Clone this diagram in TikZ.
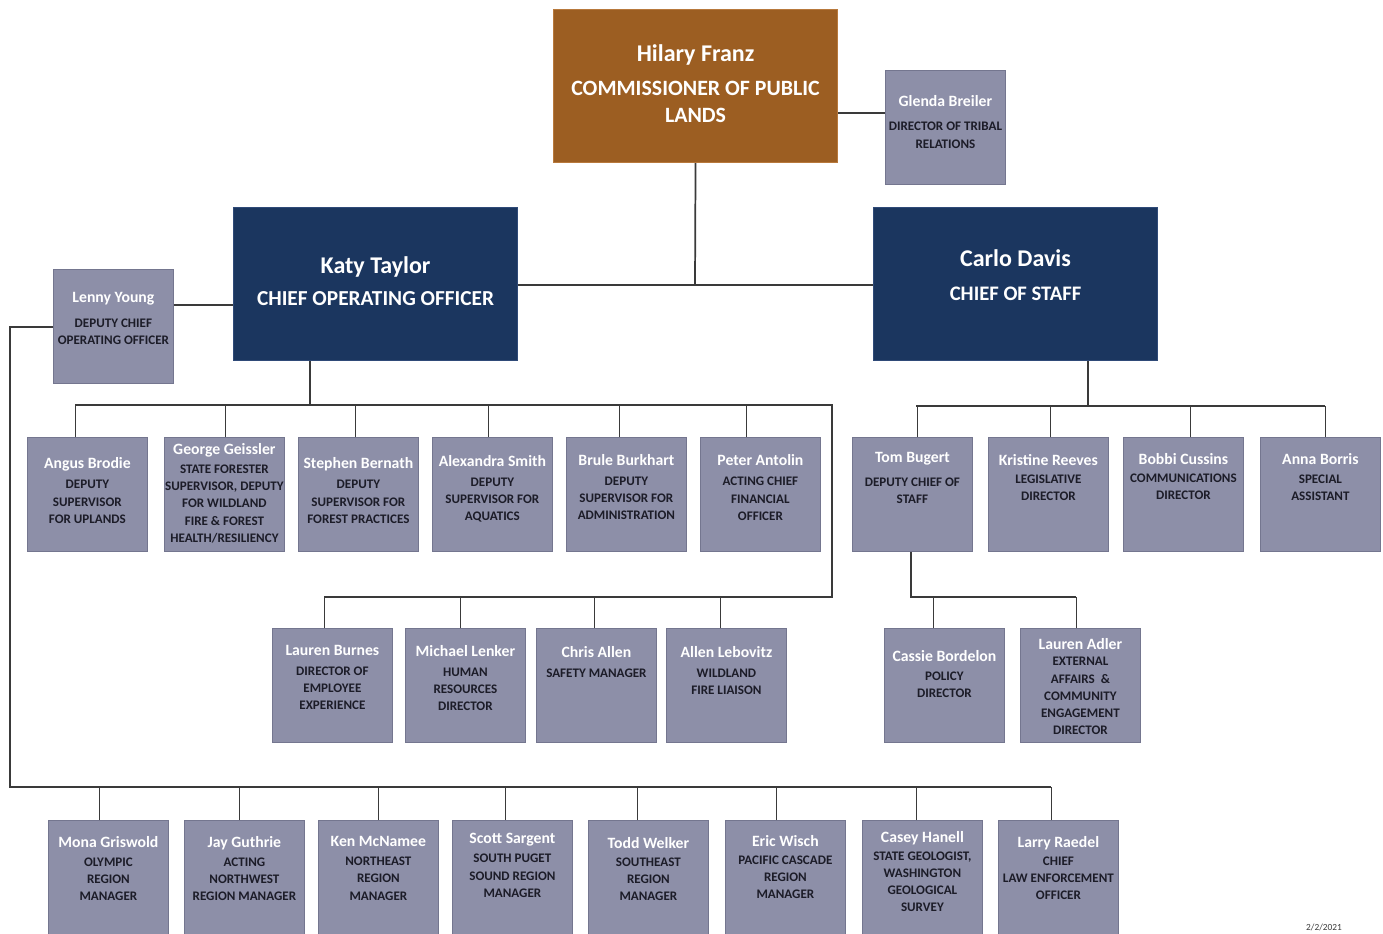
\documentclass[tikz,border=0pt]{standalone}
\usepackage{fontspec}
\setmainfont{Carlito}
\usetikzlibrary{calc}
\definecolor{staffgray}{HTML}{8D8FA8}
\definecolor{staffedge}{HTML}{74768F}
\definecolor{chiefnavy}{HTML}{1B365F}
\definecolor{chiefedge}{HTML}{2F4A78}
\definecolor{franzbrown}{HTML}{9C5E22}
\definecolor{franzedge}{HTML}{B8793C}
\definecolor{roleink}{HTML}{1C1C28}
\definecolor{wireink}{HTML}{3A3A3A}
\newcommand{\pname}[1]{{\fontsize{11.8}{13}\selectfont\color{white}#1}}

\begin{document}
\begin{tikzpicture}[x=0.75pt,y=-0.75pt,
    staff/.style={draw=staffedge, line width=0.6pt, fill=staffgray, anchor=north west,
        minimum width=90pt, minimum height=85.5pt, inner sep=0pt},
    chief/.style={draw=chiefedge, line width=0.8pt, fill=chiefnavy, anchor=north west,
        minimum width=213pt, minimum height=114.75pt, align=center, text=white,
        font=\bfseries\fontsize{16}{19}\selectfont},
    who/.style={anchor=north, align=center, inner sep=0pt, text=roleink,
        font=\bfseries\fontsize{9.8}{12.9}\selectfont},
    wire/.style={draw=wireink, line width=1.3pt}]
	%%%%% FRAME %%%%%
	\useasboundingbox[fill=white] (0,0) rectangle (1383,933);
	
	%%%%% TOP %%%%%
	\node[chief, draw=franzedge, fill=franzbrown, font=\bfseries\fontsize{16.4}{20.25}\selectfont] (franz) at (553,9)
	    {{\fontsize{18}{20}\selectfont Hilary Franz}\\[5.25pt]COMMISSIONER OF PUBLIC\\LANDS\\[-17pt]\mbox{}};
	\node[staff] (glenda) at (885,70) {};
	\node[who] (glenda-t) at ($(glenda.north)+(0,25)$) {\pname{Glenda Breiler}\\[5pt]DIRECTOR OF TRIBAL\\[1pt]RELATIONS};
	
	\node[chief] (katy) at (233,207) {{\fontsize{18}{20}\selectfont Katy Taylor}\\[5pt]CHIEF OPERATING OFFICER\\[-14pt]\mbox{}};
	\node[chief, font=\bfseries\fontsize{15.5}{19}\selectfont] (carlo) at (873,207)
	    {{\fontsize{18}{20}\selectfont Carlo Davis}\\[6.5pt]CHIEF OF STAFF\\[-5.5pt]\mbox{}};
	\node[staff] (lenny) at (53,269) {};
	\node[who] (lenny-t) at ($(lenny.north)+(0,23)$) {\pname{Lenny Young}\\[5.5pt]DEPUTY CHIEF\\OPERATING OFFICER};
	
	%%%%% COO ROW %%%%%
	\node[staff] (angus) at (27,437) {};
	\node[staff] (george) at (164,437) {};
	\node[staff] (stephen) at (298,437) {};
	\node[staff] (alexandra) at (432,437) {};
	\node[staff] (brule) at (566,437) {};
	\node[staff] (peter) at (700,437) {};
	\node[who] (angus-t) at ($(angus.north)+(0,20)$) {\pname{Angus Brodie}\\[2.5pt]DEPUTY\\SUPERVISOR\\FOR UPLANDS};
	\node[who] (george-t) at ($(george.north)+(0,6)$) {\pname{George Geissler}\\[1.5pt]STATE FORESTER\\SUPERVISOR, DEPUTY\\FOR WILDLAND\\FIRE \& FOREST\\HEALTH/RESILIENCY};
	\node[who] (stephen-t) at ($(stephen.north)+(0,20)$) {\pname{Stephen Bernath}\\[2.5pt]DEPUTY\\SUPERVISOR FOR\\FOREST PRACTICES};
	\node[who] (alexandra-t) at ($(alexandra.north)+(0,18)$) {\pname{Alexandra Smith}\\[2pt]DEPUTY\\SUPERVISOR FOR\\AQUATICS};
	\node[who] (brule-t) at ($(brule.north)+(0,17)$) {\pname{Brule Burkhart}\\[2pt]DEPUTY\\SUPERVISOR FOR\\ADMINISTRATION};
	\node[who] (peter-t) at ($(peter.north)+(0,17)$) {\pname{Peter Antolin}\\[2.5pt]ACTING CHIEF\\FINANCIAL\\OFFICER};
	
	\node[staff] (burnes) at (272,628) {};
	\node[staff] (lenker) at (405,628) {};
	\node[staff] (chris) at (536,628) {};
	\node[staff] (allen) at (666,628) {};
	\node[who] (burnes-t) at ($(burnes.north)+(0,17)$) {\pname{Lauren Burnes}\\[2pt]DIRECTOR OF\\EMPLOYEE\\EXPERIENCE};
	\node[who] (lenker-t) at ($(lenker.north)+(0,17)$) {\pname{Michael Lenker}\\[2pt]HUMAN\\RESOURCES\\DIRECTOR};
	\node[who] (chris-t) at ($(chris.north)+(0,18)$) {\pname{Chris Allen}\\[2pt]SAFETY MANAGER};
	\node[who] (allen-t) at ($(allen.north)+(0,18)$) {\pname{Allen Lebovitz}\\[2pt]WILDLAND\\FIRE LIAISON};
	
	%%%%% STAFF ROW %%%%%
	\node[staff] (tom) at (852,437) {};
	\node[staff] (kristine) at (988,437) {};
	\node[staff] (bobbi) at (1123,437) {};
	\node[staff] (anna) at (1260,437) {};
	\node[who] (tom-t) at ($(tom.north)+(0,15)$) {\pname{Tom Bugert}\\[5pt]DEPUTY CHIEF OF\\STAFF};
	\node[who] (kristine-t) at ($(kristine.north)+(0,17)$) {\pname{Kristine Reeves}\\[0.5pt]LEGISLATIVE\\DIRECTOR};
	\node[who] (bobbi-t) at ($(bobbi.north)+(0,16)$) {\pname{Bobbi Cussins}\\[0.5pt]COMMUNICATIONS\\DIRECTOR};
	\node[who] (anna-t) at ($(anna.north)+(0,16)$) {\pname{Anna Borris}\\[1.5pt]SPECIAL\\ASSISTANT};
	
	\node[staff] (cassie) at (884,628) {};
	\node[staff] (adler) at (1020,628) {};
	\node[who] (cassie-t) at ($(cassie.north)+(0,22)$) {\pname{Cassie Bordelon}\\[1.5pt]POLICY\\DIRECTOR};
	\node[who] (adler-t) at ($(adler.north)+(0,10)$) {\pname{Lauren Adler}\\[-0.5pt]EXTERNAL\\AFFAIRS \ \&\\COMMUNITY\\ENGAGEMENT\\DIRECTOR};
	
	%%%%% REGIONS %%%%%
	\node[staff, minimum height=90pt] (mona) at (48,820) {};
	\node[staff, minimum height=90pt] (jay) at (184,820) {};
	\node[staff, minimum height=90pt] (ken) at (318,820) {};
	\node[staff, minimum height=90pt] (scott) at (452,820) {};
	\node[staff, minimum height=90pt] (todd) at (588,820) {};
	\node[staff, minimum height=90pt] (eric) at (725,820) {};
	\node[staff, minimum height=90pt] (casey) at (862,820) {};
	\node[staff, minimum height=90pt] (larry) at (998,820) {};
	\node[who] (mona-t) at ($(mona.north)+(0,16)$) {\pname{Mona Griswold}\\[1.5pt]OLYMPIC\\REGION\\MANAGER};
	\node[who] (jay-t) at ($(jay.north)+(0,16)$) {\pname{Jay Guthrie}\\[1.5pt]ACTING\\NORTHWEST\\REGION MANAGER};
	\node[who] (ken-t) at ($(ken.north)+(0,16)$) {\pname{Ken McNamee}\\[1.5pt]NORTHEAST\\REGION\\MANAGER};
	\node[who] (scott-t) at ($(scott.north)+(0,13)$) {\pname{Scott Sargent}\\[1.5pt]SOUTH PUGET\\SOUND REGION\\MANAGER};
	\node[who] (todd-t) at ($(todd.north)+(0,17)$) {\pname{Todd Welker}\\[0.5pt]SOUTHEAST\\REGION\\MANAGER};
	\node[who] (eric-t) at ($(eric.north)+(0,15)$) {\pname{Eric Wisch}\\[0.5pt]PACIFIC CASCADE\\REGION\\MANAGER};
	\node[who] (casey-t) at ($(casey.north)+(0,11)$) {\pname{Casey Hanell}\\[0.5pt]STATE GEOLOGIST,\\WASHINGTON\\GEOLOGICAL\\SURVEY};
	\node[who] (larry-t) at ($(larry.north)+(0,16)$) {\pname{Larry Raedel}\\[0.5pt]CHIEF\\LAW ENFORCEMENT\\OFFICER};
	
	\node[anchor=south, inner sep=0pt, text=wireink, font=\fontsize{7}{7}\selectfont] (date) at (1324,931) {2/2/2021};
	
	%%%%% WIRES %%%%%
	\coordinate (hub) at (695,285);
	\coordinate (tribal) at (885,113);
	\coordinate (deputy) at (203,305);
	\coordinate (cooBus) at (310,405);
	\coordinate (cooTurn) at (832,405);
	\coordinate (cooLow) at (832,597);
	\coordinate (cosBus) at (1088,406);
	\coordinate (tomBus) at (911,597);
	\coordinate (regionTurn) at (10,327);
	\coordinate (regionBus) at (10,787);
	
	\draw[wire] (tribal -| franz.east) -- (tribal);
	\draw[wire] (franz.south) -- (hub);
	\draw[wire] (katy.east |- hub) -- (carlo.west |- hub);
	\draw[wire] (lenny.east |- deputy) -- (katy.west |- deputy);
	
	\draw[wire] (katy.south -| cooBus) -- (cooBus);
	\draw[wire] (75,405) -- (cooTurn) -- (cooLow) -- (324,597);
	\foreach \n/\dx in {angus/-12, george/1, stephen/-3, alexandra/-4, brule/-7, peter/-14}
	    \draw[wire] ([xshift=\dx*0.75pt]\n.north) -- ++(0,-32);
	\foreach \n/\dx in {burnes/-8, lenker/-5, chris/-2, allen/-6}
	    \draw[wire] ([xshift=\dx*0.75pt]\n.north) -- ++(0,-31);
	
	\draw[wire] (carlo.south -| cosBus) -- (cosBus);
	\draw[wire] (916,406) -- (1325,406);
	\foreach \n/\dx in {tom/5, kristine/2, bobbi/7, anna/5}
	    \draw[wire] ([xshift=\dx*0.75pt]\n.north) -- ++(0,-31);
	\draw[wire] (tom.south -| tomBus) -- (tomBus) -- (1076,597);
	\foreach \n/\dx in {cassie/-11, adler/-4}
	    \draw[wire] ([xshift=\dx*0.75pt]\n.north) -- ++(0,-31);
	
	\draw[wire] (lenny.west |- regionTurn) -- (regionTurn) -- (regionBus) -- (1051,787);
	\foreach \n/\dx in {mona/-9, jay/-5, ken/0, scott/-7, todd/-11, eric/-9, casey/-6, larry/-7}
	    \draw[wire] ([xshift=\dx*0.75pt]\n.north) -- ++(0,-33);
\end{tikzpicture}
\end{document}
